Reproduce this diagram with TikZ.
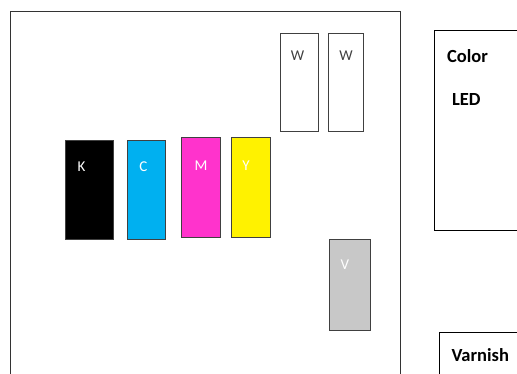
\documentclass[tikz,border=0pt]{standalone}
\usepackage{fontspec}
\setmainfont{Carlito}
\begin{document}
\begin{tikzpicture}[
        x=1pt, y=-1pt,
        ink/.style={rectangle, draw=black!75, line width=0.9pt, anchor=north west, inner sep=0pt},
        inklabel/.style={anchor=base, font=\fontsize{15}{16}\selectfont, text=white},
        panel/.style={rectangle, draw=black, line width=1pt, anchor=north west, inner sep=0pt},
        paneltext/.style={anchor=base west, font=\fontsize{18.5}{20}\selectfont\bfseries},
    ]
        \useasboundingbox (0,0) rectangle (517,374);
        \clip (0,0) rectangle (517,374);

        % Frame
        \node[panel, draw=black!80, minimum width=390pt, minimum height=390pt] (frame) at (10,11) {};

        % Ink channels
        \node[ink, fill=black, minimum width=48pt, minimum height=99pt] (k) at (65,140) {};
        \node[ink, fill={rgb,255:red,0;green,176;blue,240}, minimum width=38pt, minimum height=99pt] (c) at (127,140) {};
        \node[ink, fill={rgb,255:red,255;green,51;blue,204}, minimum width=39pt, minimum height=100pt] (m) at (181,137) {};
        \node[ink, fill=yellow, minimum width=39pt, minimum height=100pt] (y) at (231,137) {};
        \node[ink, fill=white, minimum width=38pt, minimum height=98pt] (w1) at (280,33) {};
        \node[ink, fill=white, minimum width=35pt, minimum height=98pt] (w2) at (328,33) {};
        \node[ink, fill={rgb,255:red,200;green,200;blue,200}, minimum width=41pt, minimum height=91pt] (v) at (329,239) {};

        % Ink labels
        \node[inklabel] (klabel) at ([xshift=-8pt, yshift=-31.5pt]k.north) {K};
        \node[inklabel] (clabel) at ([xshift=-3pt, yshift=-31.5pt]c.north) {C};
        \node[inklabel] (mlabel) at ([xshift=0pt, yshift=-33.5pt]m.north) {M};
        \node[inklabel] (ylabel) at ([xshift=-5pt, yshift=-33.5pt]y.north) {Y};
        \node[inklabel, text=black!75] (w1label) at ([xshift=-2pt, yshift=-27.5pt]w1.north) {W};
        \node[inklabel, text=black!75] (w2label) at ([xshift=0pt, yshift=-27.5pt]w2.north) {W};
        \node[inklabel] (vlabel) at ([xshift=-5pt, yshift=-30.5pt]v.north) {V};

        % Lamps
        \node[panel, minimum width=100pt, minimum height=200pt] (led) at (434,30) {};
        \node[panel, minimum width=90pt, minimum height=60pt] (varnish) at (439,332) {};
        \node[paneltext] (colortext) at ([xshift=9.5pt, yshift=-32.7pt]led.north west) {Color};
        \node[paneltext] (ledtext) at ([xshift=14.5pt, yshift=-75.7pt]led.north west) {LED};
        \node[paneltext] (varnishtext) at ([xshift=9pt, yshift=-29.7pt]varnish.north west) {Varnish};

    \end{tikzpicture}
\end{document}
